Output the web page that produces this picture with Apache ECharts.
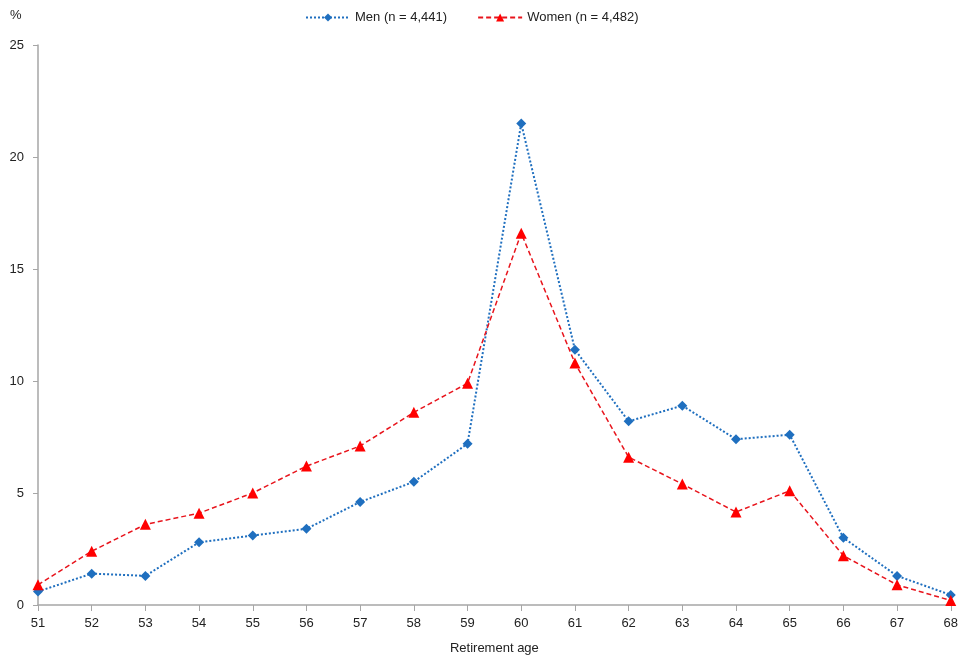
<!DOCTYPE html>
<html lang="en">
<head>
    <meta charset="UTF-8">
    <title>Retirement age</title>
    <script type="text/javascript" src="https://cdn.jsdelivr.net/npm/echarts@6/dist/echarts.min.js"></script>
    <style>
        html, body { margin: 0; padding: 0; background: #fff; }
        #chart { width: 961px; height: 662px; }
    </style>
</head>
<body>
<div id="chart"></div>
<script type="text/javascript">
    var ages = ['51', '52', '53', '54', '55', '56', '57', '58', '59', '60', '61', '62', '63', '64', '65', '66', '67', '68'];
    var men = [0.6, 1.4, 1.3, 2.8, 3.1, 3.4, 4.6, 5.5, 7.2, 21.5, 11.4, 8.2, 8.9, 7.4, 7.6, 3.0, 1.3, 0.45];
    var women = [0.9, 2.4, 3.6, 4.1, 5.0, 6.2, 7.1, 8.6, 9.9, 16.6, 10.8, 6.6, 5.4, 4.15, 5.1, 2.2, 0.9, 0.2];

    var myChart = echarts.init(document.getElementById('chart'));
    var axisColor = '#a6a6a6';
    var font = 'Arial, "Liberation Sans", sans-serif';
    var option = {
        animation: false,
        textStyle: { fontFamily: font },
        legend: {
            top: 6,
            left: 300,
            itemGap: 30,
            itemWidth: 44,
            itemHeight: 10,
            textStyle: { fontSize: 13, color: '#222', fontFamily: font },
            data: ['Men (n = 4,441)', 'Women (n = 4,482)']
        },
        graphic: [{
            type: 'text',
            left: 10,
            top: 9,
            style: { text: '%', fontSize: 13, fill: '#222', fontFamily: font }
        }],
        grid: { left: 38, right: 8, top: 45, bottom: 57 },
        xAxis: {
            type: 'category',
            data: ages,
            boundaryGap: false,
            name: 'Retirement age',
            nameLocation: 'middle',
            nameGap: 37,
            nameTextStyle: { fontSize: 13, color: '#222' },
            axisLine: { lineStyle: { color: axisColor, width: 1.5 } },
            axisTick: { alignWithLabel: true, length: 6, lineStyle: { color: axisColor } },
            axisLabel: { fontSize: 13, color: '#222', margin: 12 }
        },
        yAxis: {
            type: 'value',
            min: 0,
            max: 25,
            interval: 5,
            axisLine: { show: true, lineStyle: { color: axisColor, width: 1.5 } },
            axisTick: { show: true, length: 5, lineStyle: { color: axisColor } },
            axisLabel: { fontSize: 13, color: '#222', margin: 14 },
            splitLine: { show: false }
        },
        series: [
            {
                name: 'Men (n = 4,441)',
                type: 'line',
                data: men,
                symbol: 'diamond',
                symbolSize: 10,
                itemStyle: { color: '#1f6fbf' },
                lineStyle: { color: '#1f6fbf', width: 2, type: [2, 2] }
            },
            {
                name: 'Women (n = 4,482)',
                type: 'line',
                data: women,
                symbol: 'triangle',
                symbolSize: 11,
                itemStyle: { color: '#ff0000' },
                lineStyle: { color: '#e8141c', width: 1.5, type: [5, 3] }
            }
        ]
    };
    myChart.setOption(option);
</script>
</body>
</html>
